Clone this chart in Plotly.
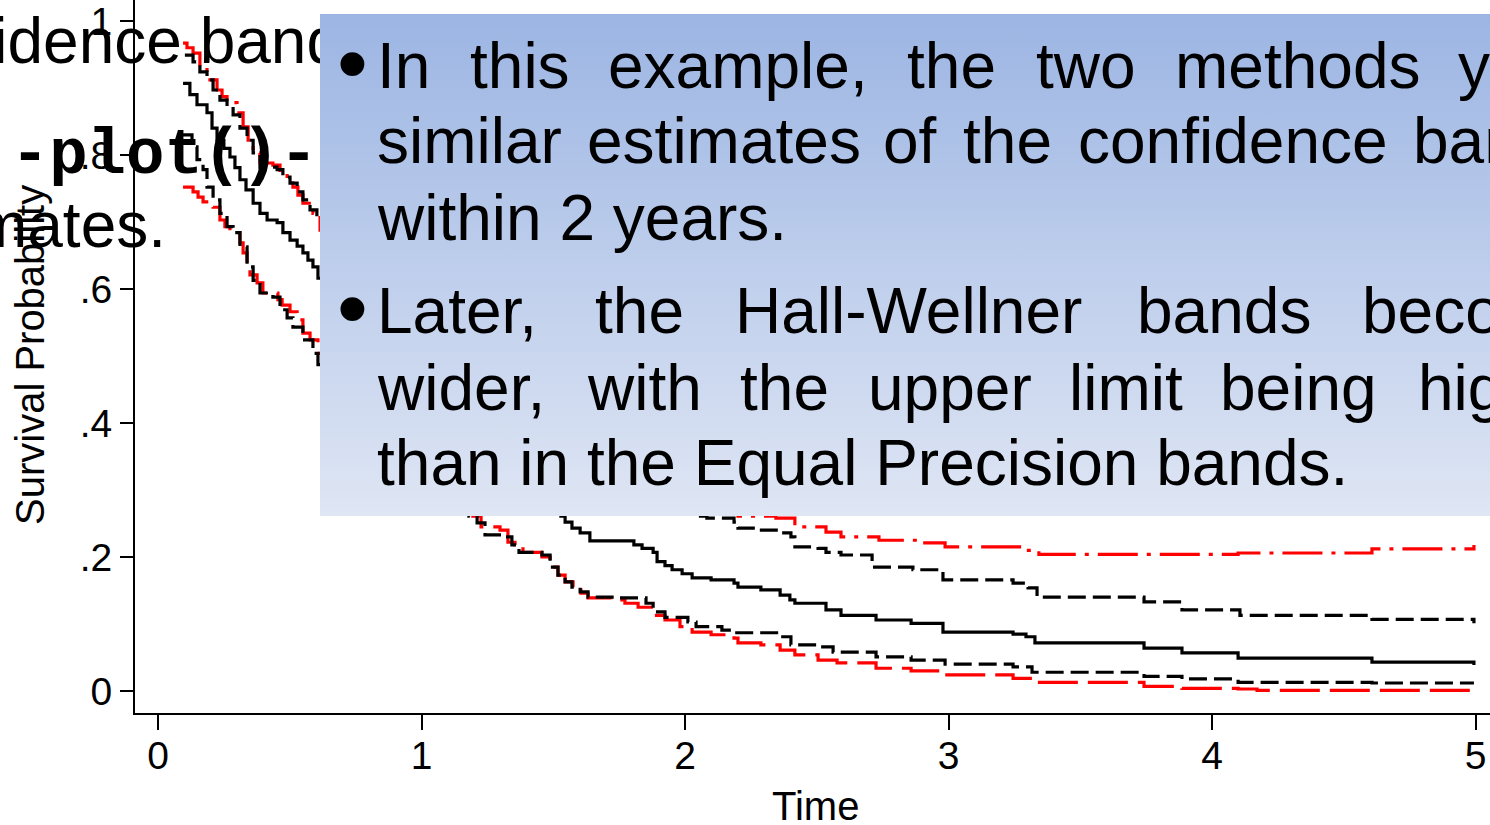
import plotly.graph_objects as go

# ---------------- data ----------------
# Kaplan-Meier estimate (step function: time of change, survival after change)
km_time = [0.095, 0.121, 0.148, 0.186, 0.205, 0.224, 0.250, 0.273, 0.292, 0.311, 0.334, 0.361,
           0.387, 0.414, 0.452, 0.474, 0.501, 0.528, 0.550, 0.569, 0.588, 0.607, 0.634, 0.691,
           0.767, 0.843, 0.918, 0.994, 1.070, 1.146, 1.222, 1.298, 1.374, 1.450, 1.507, 1.529,
           1.545, 1.571, 1.602, 1.639, 1.806, 1.837, 1.879, 1.894, 1.924, 1.951, 1.989, 2.027,
           2.099, 2.186, 2.201, 2.288, 2.361, 2.398, 2.417, 2.535, 2.592, 2.725, 2.858, 2.979,
           3.245, 3.294, 3.328, 3.742, 3.886, 4.099, 4.607, 4.994]
km_surv = [0.907, 0.890, 0.875, 0.863, 0.840, 0.822, 0.810, 0.797, 0.781, 0.763, 0.748, 0.728,
           0.713, 0.703, 0.699, 0.684, 0.673, 0.664, 0.654, 0.643, 0.633, 0.616, 0.596, 0.561,
           0.524, 0.494, 0.464, 0.434, 0.404, 0.375, 0.345, 0.322, 0.300, 0.282, 0.270, 0.261,
           0.252, 0.243, 0.236, 0.224, 0.218, 0.213, 0.207, 0.193, 0.187, 0.181, 0.175, 0.169,
           0.166, 0.161, 0.155, 0.151, 0.143, 0.136, 0.131, 0.121, 0.113, 0.106, 0.101, 0.088,
           0.085, 0.081, 0.072, 0.064, 0.057, 0.049, 0.043, 0.039]

# Equal Precision band, upper limit
ep_up_time = [0.102, 0.133, 0.159, 0.186, 0.209, 0.235, 0.262, 0.285, 0.311, 0.338, 0.361, 0.387,
              0.452, 0.474, 0.501, 0.528, 0.550, 0.577, 0.603, 0.653, 0.767, 0.918, 1.070, 1.222,
              1.374, 1.526, 1.677, 1.829, 1.943, 2.027, 2.083, 2.186, 2.201, 2.273, 2.361, 2.402,
              2.417, 2.505, 2.535, 2.592, 2.710, 2.865, 2.979, 3.245, 3.302, 3.336, 3.742, 3.886,
              4.106, 4.607, 4.994]
ep_up_surv = [0.949, 0.939, 0.924, 0.912, 0.897, 0.882, 0.872, 0.860, 0.840, 0.822, 0.803, 0.782,
              0.778, 0.767, 0.758, 0.745, 0.733, 0.718, 0.703, 0.666, 0.613, 0.554, 0.494, 0.442,
              0.397, 0.360, 0.330, 0.300, 0.278, 0.261, 0.258, 0.252, 0.243, 0.240, 0.236, 0.230,
              0.215, 0.213, 0.207, 0.203, 0.185, 0.181, 0.166, 0.161, 0.154, 0.140, 0.133, 0.121,
              0.113, 0.107, 0.101]

# Equal Precision band, lower limit
ep_lo_time = [0.095, 0.129, 0.148, 0.171, 0.186, 0.209, 0.235, 0.262, 0.285, 0.311, 0.338, 0.361,
              0.387, 0.436, 0.463, 0.490, 0.512, 0.550, 0.588, 0.607, 0.691, 0.805, 0.918, 1.032,
              1.127, 1.180, 1.211, 1.241, 1.313, 1.343, 1.370, 1.457, 1.488, 1.518, 1.545, 1.571,
              1.602, 1.632, 1.734, 1.852, 1.879, 1.924, 2.011, 2.042, 2.140, 2.186, 2.361, 2.402,
              2.505, 2.562, 2.725, 2.858, 2.987, 3.245, 3.317, 3.742, 3.886, 4.099, 4.607, 4.994]
ep_lo_surv = [0.830, 0.812, 0.793, 0.778, 0.752, 0.733, 0.713, 0.693, 0.684, 0.663, 0.633, 0.613,
              0.594, 0.588, 0.569, 0.557, 0.543, 0.524, 0.504, 0.487, 0.457, 0.419, 0.382, 0.345,
              0.300, 0.261, 0.251, 0.233, 0.230, 0.218, 0.207, 0.203, 0.185, 0.173, 0.163, 0.155,
              0.148, 0.140, 0.139, 0.131, 0.118, 0.110, 0.103, 0.096, 0.091, 0.087, 0.081, 0.069,
              0.066, 0.058, 0.051, 0.046, 0.040, 0.036, 0.028, 0.022, 0.018, 0.013, 0.012, 0.012]

# Hall-Wellner band, upper limit
hw_up_time = [0.095, 0.110, 0.133, 0.159, 0.186, 0.197, 0.224, 0.243, 0.262, 0.300, 0.323, 0.342,
              0.361, 0.387, 0.436, 0.463, 0.490, 0.512, 0.531, 0.550, 0.588, 0.615, 0.691, 0.843,
              0.994, 1.146, 1.298, 1.450, 1.602, 1.753, 1.905, 2.057, 2.171, 2.201, 2.345, 2.417,
              2.535, 2.592, 2.736, 2.884, 2.987, 3.287, 3.343, 4.099, 4.607, 4.994]
hw_up_surv = [0.967, 0.960, 0.952, 0.931, 0.919, 0.912, 0.897, 0.887, 0.878, 0.863, 0.842, 0.822,
              0.803, 0.788, 0.785, 0.773, 0.763, 0.752, 0.740, 0.728, 0.713, 0.688, 0.651, 0.584,
              0.524, 0.472, 0.427, 0.390, 0.360, 0.330, 0.307, 0.285, 0.267, 0.261, 0.258, 0.245,
              0.237, 0.230, 0.225, 0.221, 0.215, 0.210, 0.204, 0.206, 0.212, 0.218]

# Hall-Wellner band, lower limit
hw_lo_time = [0.095, 0.133, 0.152, 0.171, 0.209, 0.235, 0.254, 0.273, 0.311, 0.323, 0.338, 0.349,
              0.376, 0.398, 0.455, 0.471, 0.501, 0.528, 0.550, 0.577, 0.607, 0.691, 0.805, 0.918,
              1.032, 1.127, 1.195, 1.226, 1.298, 1.328, 1.355, 1.385, 1.457, 1.488, 1.518, 1.545,
              1.575, 1.605, 1.632, 1.719, 1.772, 1.822, 1.879, 1.924, 1.981, 2.027, 2.099, 2.186,
              2.201, 2.288, 2.361, 2.417, 2.505, 2.577, 2.725, 2.858, 2.987, 3.245, 3.317, 3.742,
              3.886, 4.099, 4.171, 4.994]
hw_lo_surv = [0.752, 0.745, 0.737, 0.730, 0.722, 0.703, 0.693, 0.684, 0.669, 0.654, 0.636, 0.621,
              0.609, 0.594, 0.584, 0.576, 0.566, 0.554, 0.534, 0.524, 0.504, 0.464, 0.427, 0.390,
              0.352, 0.300, 0.261, 0.245, 0.240, 0.222, 0.218, 0.207, 0.200, 0.185, 0.173, 0.163,
              0.151, 0.146, 0.139, 0.136, 0.131, 0.125, 0.113, 0.106, 0.096, 0.088, 0.084, 0.079,
              0.072, 0.069, 0.061, 0.054, 0.046, 0.042, 0.034, 0.030, 0.024, 0.019, 0.013, 0.007,
              0.004, 0.003, 0.001, 0.001]

x_ticks = [0, 1, 2, 3, 4, 5]
x_tick_labels = ["0", "1", "2", "3", "4", "5"]
y_ticks = [0, 0.2, 0.4, 0.6, 0.8, 1.0]
y_tick_labels = ["0", ".2", ".4", ".6", ".8", "1"]

x_title = "Time"
y_title = "Survival Probability"

bullet1 = [["In", "this", "example,", "the", "two", "methods", "yield"],
           ["similar", "estimates", "of", "the", "confidence", "bands"],
           ["within 2 years."]]
bullet2 = [["Later,", "the", "Hall-Wellner", "bands", "become"],
           ["wider,", "with", "the", "upper", "limit", "being", "higher"],
           ["than in the Equal Precision bands."]]

# ---------------- layout geometry (pixels) ----------------
W, H = 1490, 825
PL, PT, PB, PR = 135, 0, 713, 1490  # plot area edges in pixels
X_RANGE = [-0.0873, 5.0550]
Y_RANGE = [-0.0328, 1.0313]


def px_x(px):
    return X_RANGE[0] + (px - PL) / (PR - PL) * (X_RANGE[1] - X_RANGE[0])


def px_y(py):
    return Y_RANGE[1] - (py - PT) / (PB - PT) * (Y_RANGE[1] - Y_RANGE[0])


def paper_x(px):
    return (px - PL) / (PR - PL)


def paper_y(py):
    return (PB - py) / (PB - PT)


SANS = "Liberation Sans, Arial, sans-serif"
MONO = "Liberation Mono, Courier New, monospace"

fig = go.Figure()

# curves
fig.add_trace(go.Scatter(x=hw_lo_time, y=hw_lo_surv, mode="lines", line_shape="hv",
                         line=dict(color="#ff0000", width=3.2, dash="40px,10px")))
fig.add_trace(go.Scatter(x=hw_up_time, y=hw_up_surv, mode="lines", line_shape="hv",
                         line=dict(color="#ff0000", width=3.2, dash="40px,9px,4px,9px")))
fig.add_trace(go.Scatter(x=ep_lo_time, y=ep_lo_surv, mode="lines", line_shape="hv",
                         line=dict(color="#000000", width=3.2, dash="18px,7px")))
fig.add_trace(go.Scatter(x=ep_up_time, y=ep_up_surv, mode="lines", line_shape="hv",
                         line=dict(color="#000000", width=3.2, dash="18px,7px")))
fig.add_trace(go.Scatter(x=km_time, y=km_surv, mode="lines", line_shape="hv",
                         line=dict(color="#000000", width=3.2)))

# slide text fragments behind the overlay box (anchored at their right ends)
fig.add_trace(go.Scatter(
    x=[px_x(342), px_x(166)], y=[px_y(47), px_y(231)],
    mode="text", text=["confidence band", "estimates."],
    textposition="middle left", cliponaxis=False,
    textfont=dict(family=SANS, size=64, color="black"), hoverinfo="skip"))
fig.add_trace(go.Scatter(
    x=[px_x(318)], y=[px_y(157)],
    mode="text", text=["<b>-plot()-</b>"],
    textposition="middle left", cliponaxis=False,
    textfont=dict(family=MONO, size=64, color="black"), hoverinfo="skip"))

# overlay box with vertical gradient
bx0, bx1, by0, by1 = 320, 1500, 14, 516
fig.add_trace(go.Scatter(
    x=[px_x(bx0), px_x(bx1), px_x(bx1), px_x(bx0), px_x(bx0)],
    y=[px_y(by0), px_y(by0), px_y(by1), px_y(by1), px_y(by0)],
    mode="lines", fill="toself",
    fillgradient=dict(type="vertical", colorscale=[[0, "#DFE6F4"], [1, "#9CB5E3"]]),
    line=dict(width=0, color="rgba(0,0,0,0)"), hoverinfo="skip"))

annotations = []
# word positions (left edges, px) for justified lines
word_x = [
    [377, 470, 608, 907, 1036, 1175, 1458],
    [377, 587, 883, 963, 1078, 1413],
    [377],
    [377, 595, 735, 1137, 1362],
    [377, 587, 740, 868, 1069, 1220, 1418],
    [377],
]
line_y = [66, 141, 218, 311, 388, 463]
lines = bullet1 + bullet2
for words, xs, ly in zip(lines, word_x, line_y):
    for w, x in zip(words, xs):
        annotations.append(dict(text=w, x=paper_x(x - 2), y=paper_y(ly), xref="paper", yref="paper",
                                xanchor="left", yanchor="middle", showarrow=False,
                                font=dict(family=SANS, size=64, color="black")))
for by in (62, 307):
    annotations.append(dict(text="•", x=paper_x(352), y=paper_y(by), xref="paper", yref="paper",
                            xanchor="center", yanchor="middle", showarrow=False,
                            font=dict(family=SANS, size=88, color="black")))

# axis titles
annotations.append(dict(text=y_title, x=paper_x(30), y=paper_y(355), xref="paper", yref="paper",
                        textangle=-90, xanchor="center", yanchor="middle", showarrow=False,
                        font=dict(family=SANS, size=40, color="black")))
annotations.append(dict(text=x_title, x=paper_x(815), y=paper_y(806), xref="paper", yref="paper",
                        xanchor="center", yanchor="middle", showarrow=False,
                        font=dict(family=SANS, size=40, color="black")))

fig.update_layout(
    width=W, height=H,
    margin=dict(l=PL, r=W - PR, t=PT, b=H - PB, pad=0),
    paper_bgcolor="white", plot_bgcolor="white",
    showlegend=False,
    annotations=annotations,
    xaxis=dict(range=X_RANGE, tickvals=x_ticks, ticktext=x_tick_labels,
               ticks="outside", ticklen=15, tickwidth=2, tickcolor="black",
               showline=True, linewidth=2, linecolor="black",
               showgrid=False, zeroline=False, ticklabeloverflow="allow",
               ticklabelstandoff=-8,
               tickfont=dict(family=SANS, size=39, color="black")),
    yaxis=dict(range=Y_RANGE, tickvals=y_ticks, ticktext=y_tick_labels,
               ticks="outside", ticklen=13, tickwidth=2, tickcolor="black",
               showline=True, linewidth=2, linecolor="black",
               showgrid=False, zeroline=False, ticklabeloverflow="allow",
               tickfont=dict(family=SANS, size=39, color="black")),
)

fig.write_html("out.html", config={"displayModeBar": False},
               post_script="document.body.style.margin='0px';")
